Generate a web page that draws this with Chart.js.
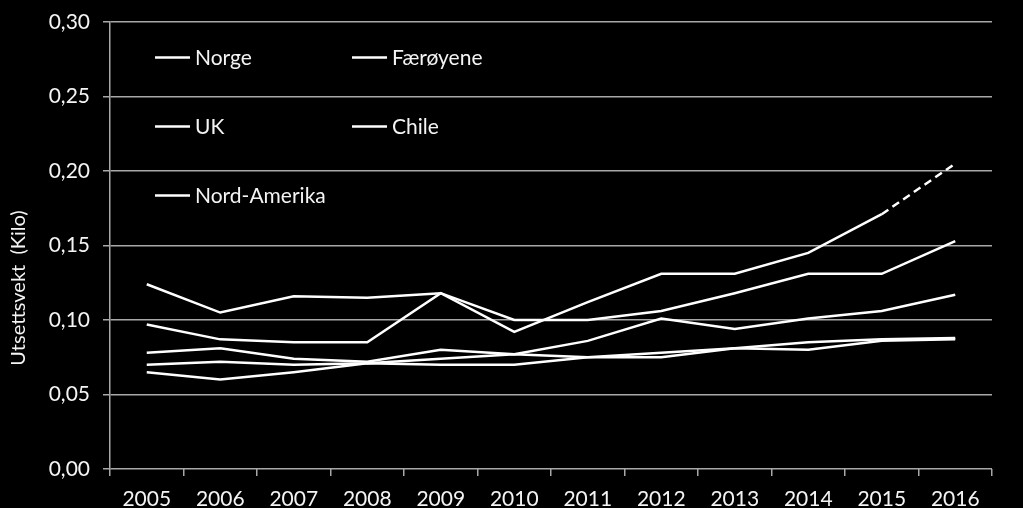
<!DOCTYPE html>
<html>
<head>
<meta charset="utf-8">
<script src="https://cdn.jsdelivr.net/npm/chart.js@4"></script>
<style>
    html, body { margin: 0; padding: 0; background: #000; }
    canvas { display: block; }
</style>
</head>
<body>
<canvas id="myChart" width="1023" height="508"></canvas>
<script>

const years = ['2005', '2006', '2007', '2008', '2009', '2010', '2011', '2012', '2013', '2014', '2015', '2016'];

const norge = [0.124, 0.105, 0.116, 0.115, 0.118, 0.100, 0.100, 0.106, 0.118, 0.131, 0.131, 0.153];
const faeroyene = [0.097, 0.087, 0.085, 0.085, 0.118, 0.092, 0.112, 0.131, 0.131, 0.145, 0.171, 0.205];
const uk = [0.078, 0.081, 0.074, 0.072, 0.080, 0.077, 0.086, 0.101, 0.094, 0.101, 0.106, 0.117];
const chile = [0.070, 0.072, 0.070, 0.071, 0.074, 0.077, 0.075, 0.078, 0.081, 0.085, 0.087, 0.088];
const nordAmerika = [0.065, 0.060, 0.065, 0.071, 0.070, 0.070, 0.075, 0.075, 0.081, 0.080, 0.086, 0.087];

const yTicks = [0, 0.05, 0.10, 0.15, 0.20, 0.25, 0.30];

const FONT = 'Lato, "DejaVu Sans", sans-serif';
const TEXT = '#f4f4f4';
const GRID = '#a8a8a8';

function serie(label, data, dashLast) {
    return {
        label: label,
        data: data,
        borderColor: '#ffffff',
        backgroundColor: '#ffffff',
        borderWidth: 2.5,
        pointRadius: 0,
        tension: 0,
        segment: {
            borderDash: ctx => (dashLast && ctx.p1DataIndex === data.length - 1) ? [8, 5] : undefined
        }
    };
}

// legend in two columns inside the plot + rotated axis title
const extras = {
    id: 'extras',
    afterDraw(chart) {
        const c = chart.ctx;
        const area = chart.chartArea;
        c.save();
        c.font = '21px ' + FONT;
        c.fillStyle = TEXT;
        c.strokeStyle = '#ffffff';
        c.lineWidth = 2.5;
        c.textBaseline = 'middle';
        chart.data.datasets.forEach((ds, i) => {
            const col = i % 2;
            const row = Math.floor(i / 2);
            const x = area.left + 45 + col * 197;
            const y = area.top + 35.5 + row * 69;
            c.beginPath();
            c.moveTo(x, y);
            c.lineTo(x + 35, y);
            c.stroke();
            c.fillText(ds.label, x + 40, y + 1);
        });

        c.translate(19, 288);
        c.rotate(-Math.PI / 2);
        c.textAlign = 'center';
        c.font = '20px ' + FONT;
        c.fillText('Utsettsvekt  (Kilo)', 0, 0);
        c.restore();
    }
};

var ctx = document.getElementById('myChart').getContext('2d');

var myChart = new Chart(ctx, {
    type: 'line',
    data: {
        labels: years,
        datasets: [
            serie('Norge', norge, false),
            serie('Færøyene', faeroyene, true),
            serie('UK', uk, false),
            serie('Chile', chile, false),
            serie('Nord-Amerika', nordAmerika, false)
        ]
    },
    options: {
        responsive: false,
        animation: false,
        devicePixelRatio: 1,
        layout: {
            padding: { left: 0, right: 31, top: 22, bottom: 0 }
        },
        plugins: {
            legend: { display: false },
            tooltip: { enabled: false }
        },
        scales: {
            x: {
                offset: true,
                grid: {
                    offset: true,
                    drawOnChartArea: false,
                    drawTicks: true,
                    tickLength: 7,
                    color: GRID,
                    lineWidth: 1.5
                },
                border: { display: false },
                ticks: {
                    color: TEXT,
                    font: { family: FONT, size: 21 },
                    padding: 11,
                    maxRotation: 0,
                    autoSkip: false
                },
                afterFit: function (scale) {
                    scale.height = 39;
                    scale.paddingLeft = 0;
                    scale.paddingRight = 0;
                }
            },
            y: {
                min: 0,
                max: 0.30,
                afterBuildTicks: function (scale) {
                    scale.ticks = yTicks.map(v => ({ value: v }));
                },
                grid: {
                    color: GRID,
                    lineWidth: 1.5,
                    tickLength: 7
                },
                border: { display: true, color: GRID, width: 1.5 },
                ticks: {
                    color: TEXT,
                    font: { family: FONT, size: 21 },
                    padding: 13,
                    callback: function (value) {
                        return value.toFixed(2).replace('.', ',');
                    }
                },
                afterFit: function (scale) {
                    scale.width = 110;
                    scale.paddingTop = 0;
                    scale.paddingBottom = 0;
                }
            }
        }
    },
    plugins: [extras]
});

</script>
</body>
</html>
